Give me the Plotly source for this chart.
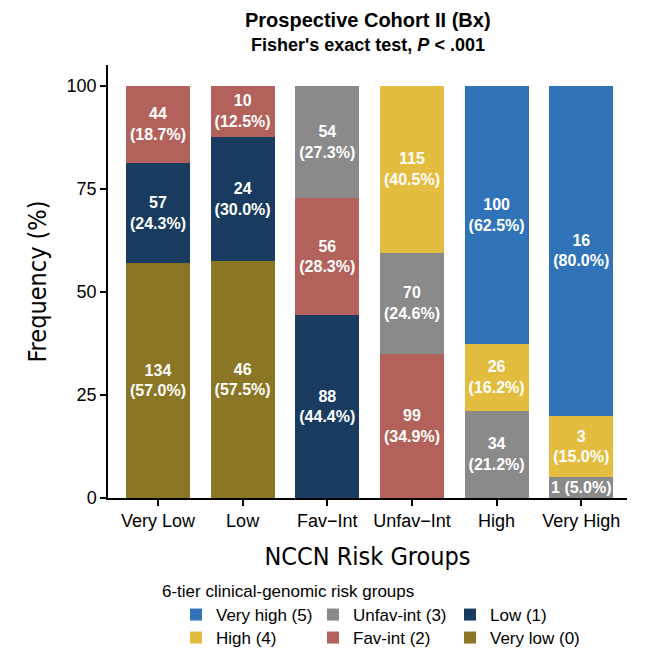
import plotly.graph_objects as go

categories = ["Very Low", "Low", "Fav\u2212Int", "Unfav\u2212Int", "High", "Very High"]

# counts per 6-tier group within each NCCN group (None = absent)
series_names = ["Very low (0)", "Low (1)", "Fav-int (2)", "Unfav-int (3)", "High (4)", "Very high (5)"]
counts = {
    "Very low (0)":  [134, 46, None, None, None, None],
    "Low (1)":       [57, 24, 88, None, None, None],
    "Fav-int (2)":   [44, 10, 56, 99, None, None],
    "Unfav-int (3)": [None, None, 54, 70, 34, 1],
    "High (4)":      [None, None, None, 115, 26, 3],
    "Very high (5)": [None, None, None, None, 100, 16],
}
percents = {
    "Very low (0)":  [57.0, 57.5, None, None, None, None],
    "Low (1)":       [24.3, 30.0, 44.4, None, None, None],
    "Fav-int (2)":   [18.7, 12.5, 28.3, 34.9, None, None],
    "Unfav-int (3)": [None, None, 27.3, 24.6, 21.2, 5.0],
    "High (4)":      [None, None, None, 40.5, 16.2, 15.0],
    "Very high (5)": [None, None, None, None, 62.5, 80.0],
}
colors = {
    "Very low (0)": "#8B7625",
    "Low (1)": "#193B5F",
    "Fav-int (2)": "#B3615B",
    "Unfav-int (3)": "#8A8A8A",
    "High (4)": "#E3BD3F",
    "Very high (5)": "#3173B8",
}
# legend layout: (legend row, rank within row)
legend_slot = {
    "Very high (5)": ("legend", 1), "Unfav-int (3)": ("legend", 2), "Low (1)": ("legend", 3),
    "High (4)": ("legend2", 1), "Fav-int (2)": ("legend2", 2), "Very low (0)": ("legend2", 3),
}

FONT = "Liberation Sans, Arial, sans-serif"
NARROW = "Liberation Sans Narrow, DejaVu Sans Condensed, Arial Narrow, sans-serif"

L, R, T, B = 108, 33, 65, 162
PH = 660 - T - B  # plot height in px


def py(ypix):
    """container pixel row -> paper y"""
    return (660 - B - ypix) / PH


def px(xpix):
    return (xpix - L) / (660 - L - R)


fig = go.Figure()
for name in series_names:
    texts = []
    for c, p in zip(counts[name], percents[name]):
        if c is None:
            texts.append("")
        elif p < 10:
            texts.append(f"<b>{c} ({p:.1f}%)</b>")
        else:
            texts.append(f"<b>{c}<br>({p:.1f}%)</b>")
    lg, rank = legend_slot[name]
    fig.add_trace(go.Bar(
        x=categories, y=percents[name], name=name,
        marker=dict(color=colors[name], line=dict(width=0)),
        text=texts, textposition="inside", insidetextanchor="middle",
        textfont=dict(color="white", size=16, family=FONT),
        constraintext="none", textangle=0,
        legend=lg, legendrank=rank, hoverinfo="skip",
    ))

legend_common = dict(
    orientation="h", x=px(176), xanchor="left", yanchor="top",
    xref="paper", yref="paper",
    entrywidth=92, entrywidthmode="pixels",
    font=dict(size=17, family=FONT),
    traceorder="normal", tracegroupgap=0, bgcolor="rgba(0,0,0,0)",
)

fig.update_layout(
    barmode="stack", bargap=0.245,
    width=660, height=660,
    margin=dict(l=L, r=R, t=T, b=B, autoexpand=False),
    plot_bgcolor="white", paper_bgcolor="white",
    font=dict(family=FONT, color="black"),
    showlegend=True,
    legend=dict(legend_common, y=py(597)),
    legend2=dict(legend_common, y=py(620)),
    xaxis=dict(
        range=[-0.59, 5.54], showline=True, linecolor="black", linewidth=1.5,
        ticks="outside", ticklen=6, tickcolor="black", tickwidth=1.5,
        tickfont=dict(size=18, family=FONT), showgrid=False,
        title=dict(text="NCCN Risk Groups", font=dict(size=25, family=NARROW), standoff=17),
    ),
    yaxis=dict(
        range=[0, 105], showline=True, linecolor="black", linewidth=1.5,
        ticks="outside", ticklen=6, tickcolor="black", tickwidth=1.5,
        tickvals=[0, 25, 50, 75, 100], tickfont=dict(size=18, family=FONT),
        showgrid=False, zeroline=False,
        title=dict(text="Frequency (%)", font=dict(size=25, family=NARROW), standoff=13),
    ),
    annotations=[
        dict(text="<b>Prospective Cohort II (Bx)</b>", x=0.5, y=py(20),
             xref="paper", yref="paper", yanchor="middle", showarrow=False,
             font=dict(size=20, family=FONT)),
        dict(text="<b>Fisher's exact test, <i>P</i> < .001</b>", x=0.5, y=py(45),
             xref="paper", yref="paper", yanchor="middle", showarrow=False,
             font=dict(size=18, family=FONT)),
        dict(text="6-tier clinical-genomic risk groups", x=px(160), y=py(591),
             xref="paper", yref="paper", xanchor="left", yanchor="middle",
             showarrow=False, font=dict(size=17, family=FONT)),
    ],
)

fig.write_html("out.html")
